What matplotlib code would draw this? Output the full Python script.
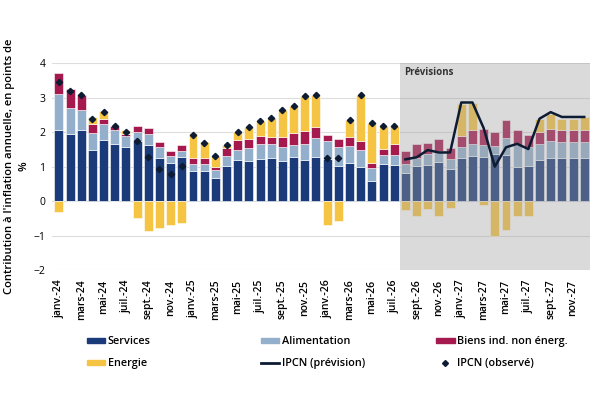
import numpy as np
import pandas as pd
import matplotlib
matplotlib.use('Agg')
import matplotlib.pyplot as plt
from matplotlib.lines import Line2D
from matplotlib.patches import Patch

plt.rcParams['font.family'] = ['Open Sans', 'DejaVu Sans']

# mois de janv.-24 à déc.-27
mois_noms = ['janv.', 'févr.', 'mars', 'avr.', 'mai', 'juin', 'juil.', 'août', 'sept.', 'oct.', 'nov.', 'déc.']
mois = [f'{m}-{a}' for a in ['24', '25', '26', '27'] for m in mois_noms]

# contributions (points de %)
services = [2.05, 1.95, 2.07, 1.48, 1.76, 1.66, 1.56, 1.75, 1.62, 1.24, 1.09, 1.29,
            0.88, 0.86, 0.68, 1.02, 1.18, 1.15, 1.22, 1.24, 1.15, 1.27, 1.19, 1.27,
            1.22, 1.02, 1.11, 0.99, 0.57, 1.07, 1.05, 0.80, 1.02, 1.04, 1.12, 0.93,
            1.25, 1.32, 1.27, 1.36, 1.35, 1.00, 1.02, 1.19, 1.25, 1.25, 1.25, 1.25]
alimentation = [1.07, 0.74, 0.56, 0.49, 0.48, 0.41, 0.34, 0.25, 0.33, 0.32, 0.23, 0.17,
                0.19, 0.21, 0.23, 0.29, 0.29, 0.38, 0.44, 0.42, 0.41, 0.36, 0.47, 0.56,
                0.53, 0.54, 0.50, 0.49, 0.38, 0.27, 0.30, 0.27, 0.23, 0.32, 0.34, 0.28,
                0.31, 0.34, 0.37, 0.23, 0.48, 0.63, 0.54, 0.47, 0.50, 0.46, 0.46, 0.46]
biens = [0.61, 0.55, 0.44, 0.27, 0.15, 0.12, 0.05, 0.19, 0.17, 0.15, 0.14, 0.17,
         0.18, 0.18, 0.09, 0.22, 0.29, 0.27, 0.22, 0.21, 0.29, 0.34, 0.37, 0.31,
         0.18, 0.24, 0.26, 0.27, 0.14, 0.16, 0.31, 0.39, 0.41, 0.33, 0.33, 0.33,
         0.34, 0.39, 0.46, 0.41, 0.51, 0.42, 0.37, 0.34, 0.35, 0.36, 0.36, 0.36]
energie = [-0.31, 0.0, 0.0, 0.20, 0.22, 0.0, 0.12, -0.48, -0.88, -0.78, -0.70, -0.64,
           0.72, 0.45, 0.32, 0.10, 0.25, 0.36, 0.44, 0.54, 0.78, 0.78, 1.01, 0.93,
           -0.70, -0.58, 0.49, 1.32, 1.18, 0.68, 0.52, -0.27, -0.42, -0.22, -0.42, -0.19,
           0.93, 0.80, -0.10, -1.02, -0.83, -0.43, -0.43, 0.39, 0.43, 0.32, 0.32, 0.37]

# IPCN observé (jusqu'à juil.-26) et prévision (à partir d'août-26)
ipcn_obs = [3.45, 3.20, 3.09, 2.39, 2.58, 2.19, 1.99, 1.73, 1.27, 0.94, 0.78, 1.01,
            1.92, 1.69, 1.31, 1.64, 2.00, 2.16, 2.32, 2.41, 2.63, 2.75, 3.04, 3.07,
            1.25, 1.24, 2.36, 3.07, 2.27, 2.18, 2.18]
ipcn_prev = [1.21, 1.27, 1.48, 1.41, 1.41, 2.86, 2.86, 2.12, 1.00, 1.56, 1.66, 1.51,
             2.39, 2.58, 2.44, 2.44, 2.44]

df = pd.DataFrame({'Services': services, 'Alimentation': alimentation,
                   'Biens': biens, 'Energie': energie}, index=mois)

c_serv = '#1b3a7a'
c_alim = '#93afcb'
c_biens = '#a5194f'
c_ener = '#f6c443'
c_ipcn = '#0d1b33'

fig, ax = plt.subplots(figsize=(6, 4), dpi=100)
fig.subplots_adjust(left=0.087, right=0.983, top=0.842, bottom=0.325)

x = np.arange(len(mois))
kw = dict(width=0.8, edgecolor='white', linewidth=0.4, zorder=2)
ax.bar(x, df['Services'], color=c_serv, **kw)
ax.bar(x, df['Alimentation'], bottom=df['Services'], color=c_alim, **kw)
top3 = df['Services'] + df['Alimentation']
ax.bar(x, df['Biens'], bottom=top3, color=c_biens, **kw)
top3 = top3 + df['Biens']
e = df['Energie']
ax.bar(x, e, bottom=np.where(e > 0, top3, 0), color=c_ener, **kw)

# zone de prévision
n_obs = len(ipcn_obs)
ax.axvspan(n_obs - 0.5, len(mois) - 0.5, color='#a0a0a0',
           alpha=0.38, lw=0, zorder=3)
ax.text(n_obs - 0.1, 3.72, 'Prévisions', fontsize=7, fontweight='bold',
        color='#333333', va='center', zorder=5)

ax.plot(x[:n_obs], ipcn_obs, 'D', color=c_ipcn, markersize=3.2, zorder=4, ls='none')
ax.plot(x[n_obs:], ipcn_prev, color=c_ipcn, lw=1.8, zorder=4)

ax.set_ylim(-2, 4)
ax.set_xlim(-0.6, len(mois) - 0.5)
ax.set_yticks(range(-2, 5))
ax.grid(axis='y', color='#dddddd', lw=0.8, zorder=0)
ax.set_axisbelow(True)
for s in ax.spines.values():
    s.set_visible(False)
ax.tick_params(axis='both', length=0, labelsize=7.5)
ax.tick_params(axis='y', pad=5)
ax.tick_params(axis='x', pad=7)
ax.set_xticks(x[::2])
ax.set_xticklabels(mois[::2], rotation=90, fontsize=7.5, fontweight='semibold')
ax.set_ylabel("Contribution à l'inflation annuelle, en points de\n%",
              fontsize=8.1, fontweight='semibold', linespacing=1.35)
ax.yaxis.set_label_coords(-0.043, 0.5)

# légende : trois colonnes régulièrement espacées
cols = [
    ([Patch(color=c_serv), Patch(color=c_ener)], ['Services', 'Energie']),
    ([Patch(color=c_alim), Line2D([], [], color=c_ipcn, lw=2)],
     ['Alimentation', 'IPCN (prévision)']),
    ([Patch(color=c_biens), Line2D([], [], marker='D', color=c_ipcn, ls='none', markersize=3)],
     ['Biens ind. non énerg.', 'IPCN (observé)']),
]
for (h, l), xpos in zip(cols, [0.145, 0.435, 0.727]):
    fig.legend(h, l, loc='upper left', bbox_to_anchor=(xpos, 0.16), ncol=1,
               frameon=False, handlelength=1.7, handleheight=0.35,
               handletextpad=0.2, labelspacing=1.05, borderpad=0, borderaxespad=0,
               prop={'weight': 'semibold', 'size': 7.8})

fig.savefig('out.png', dpi=100)
